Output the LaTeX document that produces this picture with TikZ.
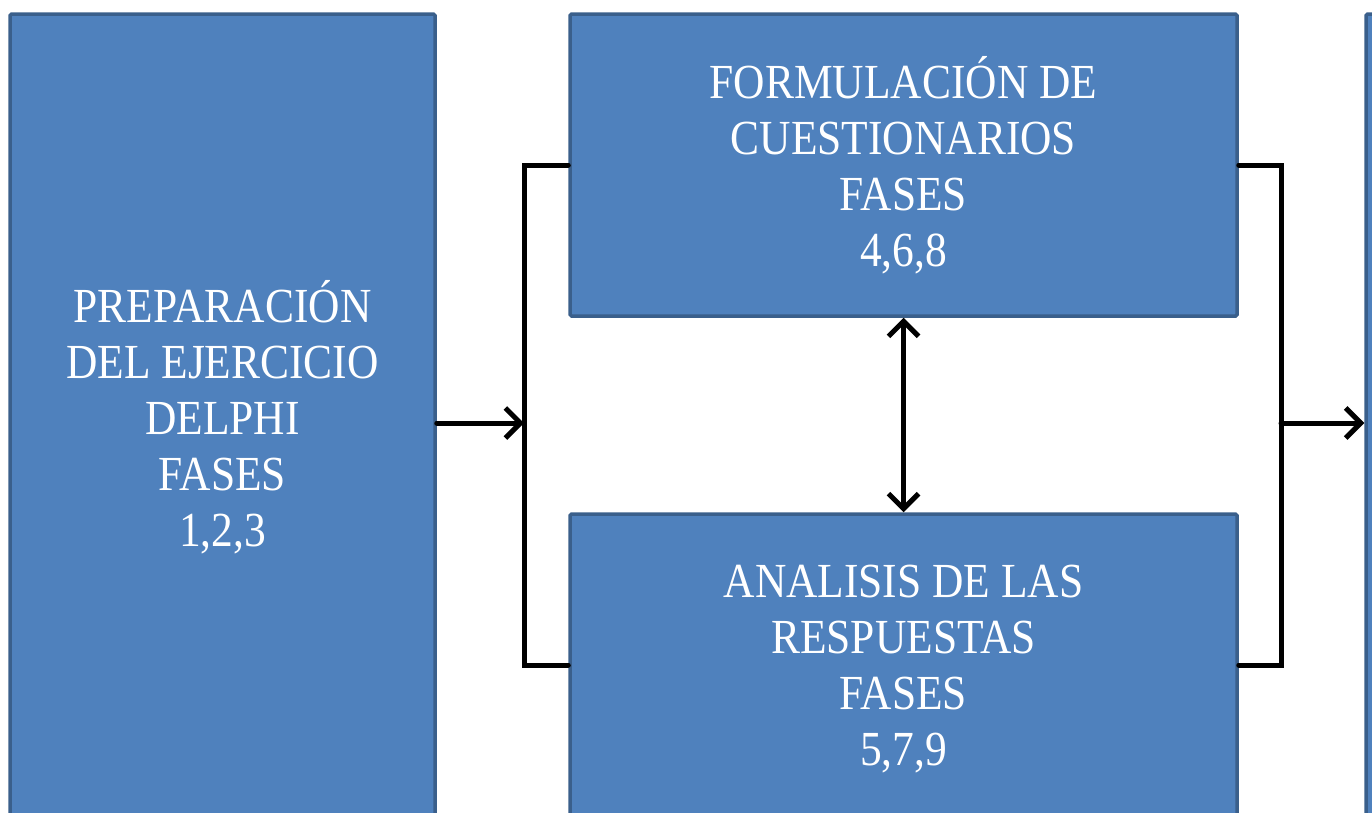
\documentclass[tikz,border=0pt]{standalone}
\usepackage{fontspec}
\setmainfont[FakeStretch=0.887]{Liberation Serif}
\usetikzlibrary{arrows.meta}
\definecolor{boxfill}{HTML}{4F81BD}
\definecolor{boxline}{HTML}{3A5F8B}
\tikzset{
  phase/.style={draw=boxline, fill=boxfill, line width=3.5pt, rounded corners=1.5pt,
    text=white, align=center, inner sep=0pt,
    font=\fontsize{49}{56}\selectfont},
  link/.style={black, line width=5pt, line cap=round, line join=miter},
  tip/.style={-{Straight Barb[length=15pt,width=30pt,line width=5pt]}}
}
\begin{document}
\begin{tikzpicture}[x=1pt,y=1pt]
\useasboundingbox (0,0) rectangle (1372,-812);
\clip (0,0) rectangle (1372,-812);
\node[phase, minimum width=425pt, minimum height=806pt] (prep) at (222.5,-417)
  {PREPARACIÓN\\DEL EJERCICIO\\DELPHI\\FASES\\1,2,3};
\node[phase, minimum width=667pt, minimum height=302pt] (form) at (903.5,-165)
  {FORMULACIÓN DE\\CUESTIONARIOS\\FASES\\4,6,8};
\node[phase, minimum width=667pt, minimum height=310pt] (anal) at (903.5,-669)
  {ANALISIS DE LAS\\RESPUESTAS\\FASES\\5,7,9};
\node[phase, minimum width=425pt, minimum height=806pt] (next) at (1578.5,-417) {};
\coordinate (jl) at (524,-423);
\coordinate (jr) at (1281,-423);
\draw[link] (form.west) -| (jl) |- ([yshift=4pt]anal.west);
\draw[link] (form.east) -| (jr) |- ([yshift=4pt]anal.east);
\draw[link, tip] (prep.east |- jl) -- (jl);
\draw[link, tip] (jr) -- (next.west |- jr);
\draw[link, {Straight Barb[length=15pt,width=30pt,line width=5pt]}-{Straight Barb[length=15pt,width=30pt,line width=5pt]}] (form.south) -- (anal.north);
\end{tikzpicture}
\end{document}
